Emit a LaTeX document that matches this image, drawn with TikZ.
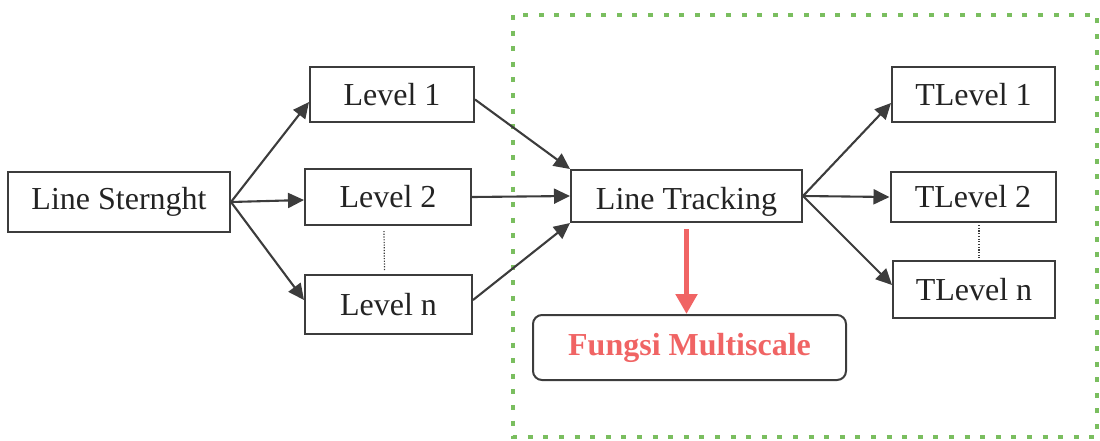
\documentclass[tikz,border=0pt]{standalone}
\usepackage{fontspec}
\setmainfont{Liberation Serif}
\usetikzlibrary{arrows.meta}
\definecolor{linegray}{RGB}{60,60,60}
\definecolor{textgray}{RGB}{35,35,35}
\definecolor{boxgreen}{RGB}{122,190,95}
\definecolor{fred}{RGB}{240,100,100}
\tikzset{
  box/.style={draw=linegray, line width=2pt, inner sep=0pt, anchor=center,
    font=\fontsize{32}{36}\selectfont, text=textgray},
  conn/.style={draw=linegray, line width=2.1pt, -{Triangle[length=16pt,width=15pt]}},
  dotline/.style={draw=linegray, line width=1.2pt, dash pattern=on 1.2pt off 1.5pt},
  redarrow/.style={draw=fred, line width=5pt, -{Triangle[length=20pt,width=21pt]}},
}
\begin{document}
\begin{tikzpicture}[x=1pt,y=-1pt]
\useasboundingbox (0,0) rectangle (1100,440);
\draw[boxgreen, line width=4.5pt, dash pattern=on 5pt off 10.6pt] (513,15) rectangle (1097,437);

\node[box, minimum width=222pt, minimum height=60pt] (ls) at (119,202) {Line Sternght};
\node[box, minimum width=164pt, minimum height=55pt] (l1) at (392,94.5) {Level 1};
\node[box, minimum width=166pt, minimum height=56pt] (l2) at (388,197) {Level 2};
\node[box, minimum width=167pt, minimum height=59pt] (ln) at (388.5,304.5) {Level n};
\node[box, minimum width=231pt, minimum height=52pt] (lt) at (686.5,196) {\raisebox{-13pt}[0pt][0pt]{Line Tracking}};
\node[box, minimum width=163pt, minimum height=55pt] (t1) at (973.5,94.5) {TLevel 1};
\node[box, minimum width=165pt, minimum height=50pt] (t2) at (973,197) {TLevel 2};
\node[box, minimum width=162pt, minimum height=57pt] (tn) at (974,289.5) {TLevel n};
\node[box, rounded corners=9pt, minimum width=313pt, minimum height=65pt, text=fred,
  font=\fontsize{32}{36}\selectfont\bfseries] (fm) at (689.5,347.5) {Fungsi Multiscale};

\draw[conn] (ls.east) -- ([yshift=-7.5pt]l1.west);
\draw[conn] (ls.east) -- ([yshift=-3pt]l2.west);
\draw[conn] (ls.east) -- ([yshift=4.5pt]ln.west);

\draw[conn] ([yshift=-5pt]l1.east) -- (lt.north west);
\draw[conn] (l2.east) -- (lt.west);
\draw[conn] ([yshift=4.5pt]ln.east) -- (lt.south west);

\draw[conn] (lt.east) -- ([yshift=-8.5pt]t1.west);
\draw[conn] (lt.east) -- (t2.west);
\draw[conn] (lt.east) -- ([yshift=4.5pt]tn.west);

\draw[dotline] ([xshift=-4pt,yshift=-5pt]l2.south) -- ([xshift=-4pt,yshift=3pt]ln.north);
\draw[dotline] ([xshift=6pt,yshift=-2pt]t2.south) -- ([xshift=5pt,yshift=2pt]tn.north);

\draw[redarrow] ([yshift=-6pt]lt.south) -- (lt.south |- fm.north);
\end{tikzpicture}
\end{document}
